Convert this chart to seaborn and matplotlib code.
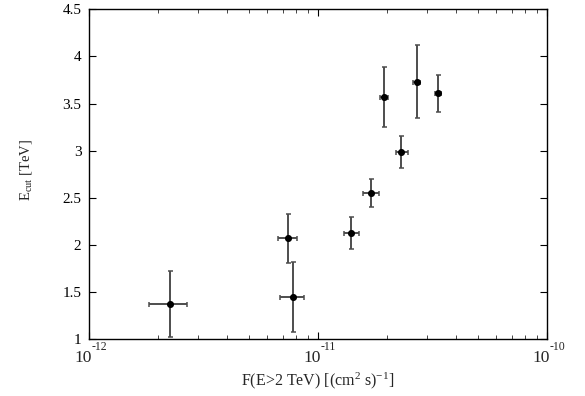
import numpy as np
import pandas as pd
import matplotlib
matplotlib.use("Agg")
import matplotlib.pyplot as plt
import seaborn as sns
from matplotlib.ticker import LogLocator, NullFormatter

# Data
flux = [2.25e-12, 7.38e-12, 7.76e-12, 1.40e-11, 1.71e-11, 1.94e-11, 2.31e-11, 2.71e-11, 3.33e-11]
flux_lo = [1.82e-12, 6.71e-12, 6.85e-12, 1.30e-11, 1.58e-11, 1.86e-11, 2.18e-11, 2.60e-11, 3.23e-11]
flux_hi = [2.69e-12, 8.10e-12, 8.69e-12, 1.51e-11, 1.84e-11, 2.03e-11, 2.46e-11, 2.80e-11, 3.43e-11]
ecut = [1.37, 2.07, 1.45, 2.13, 2.55, 3.57, 2.98, 3.73, 3.61]
ecut_lo = [1.02, 1.81, 1.07, 1.955, 2.40, 3.25, 2.81, 3.35, 3.415]
ecut_hi = [1.72, 2.33, 1.82, 2.30, 2.70, 3.885, 3.16, 4.12, 3.80]
yticks = [1, 1.5, 2, 2.5, 3, 3.5, 4, 4.5]
ytick_labels = ["1", "1.5", "2", "2.5", "3", "3.5", "4", "4.5"]
xticks = [1e-12, 1e-11, 1e-10]
xtick_bases = ["10", "10", "10"]
xtick_exps = ["-12", "-11", "-10"]

df = pd.DataFrame({"flux": flux, "ecut": ecut})

sns.set_style("ticks")
plt.rcParams["font.family"] = ["Liberation Serif", "DejaVu Serif"]
plt.rcParams["mathtext.fontset"] = "custom"
plt.rcParams["mathtext.rm"] = "Liberation Serif"
plt.rcParams["mathtext.it"] = "Liberation Serif:italic"

W, H = 585, 396
L, R, T, B = 89, 547, 9.3, 339
fig = plt.figure(figsize=(W / 100, H / 100), dpi=100)
ax = fig.add_axes([L / W, (H - B) / H, (R - L) / W, (B - T) / H])

xerr = np.array([np.array(flux) - np.array(flux_lo), np.array(flux_hi) - np.array(flux)])
yerr = np.array([np.array(ecut) - np.array(ecut_lo), np.array(ecut_hi) - np.array(ecut)])
ax.errorbar(flux, ecut, xerr=xerr, yerr=yerr, fmt="none", ecolor="#4d4d4d",
            elinewidth=1.4, capsize=1.8, capthick=1.1, zorder=2)
sns.scatterplot(data=df, x="flux", y="ecut", ax=ax, color="black", s=26,
                edgecolor="black", linewidth=0, zorder=3, legend=False)

ax.set_xscale("log")
ax.set_xlim(1e-12, 1e-10)
ax.set_ylim(1, 4.5)
ax.set_xticks(xticks)
ax.set_xticklabels([""] * len(xticks))
ax.xaxis.set_minor_locator(LogLocator(base=10, subs=np.arange(2, 10)))
ax.xaxis.set_minor_formatter(NullFormatter())
ax.set_yticks(yticks)
ax.set_yticklabels(ytick_labels)

ax.tick_params(axis="both", which="major", direction="in", length=5, width=0.8,
               top=True, right=True, labelsize=11, colors="black")
ax.tick_params(axis="y", pad=5.5)
ax.tick_params(axis="x", which="minor", direction="in", length=3, width=0.6,
               top=True, bottom=True)
for s in ax.spines.values():
    s.set_linewidth(1.0)
    s.set_color("black")

px = 72 / 100.0  # points per pixel
for xt, base, ex in zip(xticks, xtick_bases, xtick_exps):
    ax.annotate(base, xy=(xt, 0), xycoords=("data", "axes fraction"),
                xytext=(2.5 * px, -22.7 * px), textcoords="offset points",
                ha="right", va="baseline", fontsize=12.5, annotation_clip=False)
    ax.annotate(ex, xy=(xt, 0), xycoords=("data", "axes fraction"),
                xytext=(2.5 * px, -10.5 * px), textcoords="offset points",
                ha="left", va="baseline", fontsize=8.5, annotation_clip=False)

ax.set_xlabel(r"F(E>2 TeV) [(cm$^2$ s)$^{\mathrm{-1}}$]", fontsize=11.5)
ax.xaxis.set_label_coords(0.5, -31 / (B - T))
ax.set_ylabel(r"E$_{\rm cut}$ [TeV]", fontsize=10.5)
ax.yaxis.set_label_coords((34 - L) / (R - L), (B - 170) / (B - T))

fig.savefig("out.png", dpi=100)
